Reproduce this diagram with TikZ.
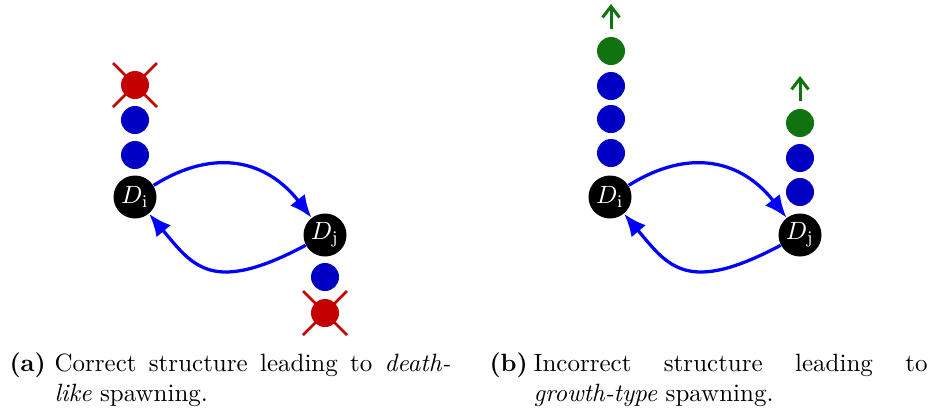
\documentclass[tikz,border=0pt]{standalone}
\usetikzlibrary{arrows.meta,calc}
\definecolor{deadred}{RGB}{196,0,0}
\definecolor{dotblue}{RGB}{0,0,196}
\definecolor{growgreen}{RGB}{16,115,16}
\definecolor{flowblue}{RGB}{0,0,255}
\tikzset{
  dnode/.style={circle, fill=black, text=white, inner sep=0pt, minimum size=17.2pt, font=\normalsize},
  walker/.style={circle, fill=dotblue, inner sep=0pt, minimum size=11.2pt},
  deadwalker/.style={circle, fill=deadred, inner sep=0pt, minimum size=11.2pt},
  newwalker/.style={circle, fill=growgreen, inner sep=0pt, minimum size=11.2pt},
  flow/.style={draw=flowblue, line width=1.3pt, -{Latex[length=9pt,width=7.5pt]}},
  killmark/.style={draw=deadred, line width=1.1pt},
  growarrow/.style={draw=growgreen, line width=1.2pt, -{Straight Barb[length=4.4pt,width=6.8pt]}},
  caplabel/.style={anchor=base west, inner sep=0pt, font=\bfseries},
  captext/.style={anchor=base west, inner sep=0pt},
  backflow/.style={out=-152, in=-50, out looseness=1.7, in looseness=1.1}
}
\begin{document}
\begin{tikzpicture}[x=0.4pt, y=0.4pt]
\useasboundingbox (0,0) rectangle (930,-414);

% ---- (a) death-like spawning ----
\node[dnode] (ai) at (135,-197) {$D_{\mathrm{i}}$};
\node[dnode] (aj) at (325,-235) {$D_{\mathrm{j}}$};
\node[walker] (ai1) at (135,-155) {};
\node[walker] (ai2) at (135,-120) {};
\node[deadwalker] (ai3) at (135,-85) {};
\node[walker] (aj1) at (325,-277) {};
\node[deadwalker] (aj2) at (325,-313) {};
\foreach \d in {ai3,aj2}{
  \draw[killmark] ($(\d)+(-22,22)$) -- ($(\d)+(22,-22)$);
  \draw[killmark] ($(\d)+(-22,-22)$) -- ($(\d)+(22,22)$);
}
\draw[flow] (ai) to[out=32,in=128,looseness=1.15] (aj);
\draw[flow] (aj) to[backflow] (ai);

% ---- (b) growth-type spawning ----
\node[dnode] (bi) at (610,-197) {$D_{\mathrm{i}}$};
\node[dnode] (bj) at (800,-235) {$D_{\mathrm{j}}$};
\node[walker] (bi1) at (611,-153) {};
\node[walker] (bi2) at (611,-119) {};
\node[walker] (bi3) at (611,-86) {};
\node[newwalker] (bi4) at (611,-51) {};
\node[walker] (bj1) at (800,-192) {};
\node[walker] (bj2) at (800,-158) {};
\node[newwalker] (bj3) at (800,-123) {};
\coordinate (bitop) at (611,-4);
\coordinate (bjtop) at (800,-76);
\draw[growarrow] ($(bi4)+(0,22)$) -- (bitop);
\draw[growarrow] ($(bj3)+(0,22)$) -- (bjtop);
\draw[flow] (bi) to[out=32,in=128,looseness=1.15] (bj);
\draw[flow] (bj) to[backflow] (bi);

% ---- captions ----
\node[caplabel] (capa) at (9,-371) {(a)};
\node[captext] (capat) at (54,-371) {\parbox[t]{158.4pt}{Correct structure leading to \emph{death-}\linebreak\emph{like} spawning.}};
\node[caplabel] (capb) at (489,-371) {(b)};
\node[captext] (capbt) at (533,-371) {\parbox[t]{157.6pt}{Incorrect structure leading to\linebreak \emph{growth-type} spawning.}};
\end{tikzpicture}
\end{document}
